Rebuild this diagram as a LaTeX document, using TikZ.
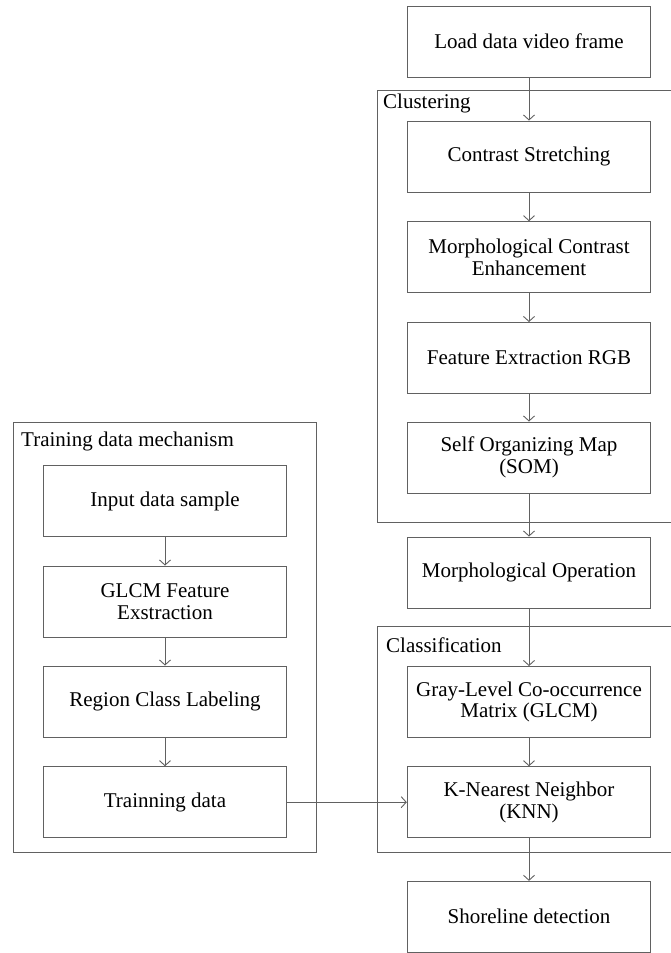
\documentclass[tikz,border=0pt]{standalone}
\usepackage{fontspec}
\setmainfont{Liberation Serif}
\usetikzlibrary{arrows.meta}
\begin{document}
\begin{tikzpicture}[x=1pt,y=-1pt,
  line/.style={draw=black!62, line width=0.9pt},
  box/.style={line, rectangle, minimum width=243.5pt, minimum height=71pt, align=center, inner sep=2pt, font=\fontsize{21}{21.5}\selectfont, text=black},
  flow/.style={line, -{Straight Barb[length=5pt,width=11pt]}},
  grp/.style={font=\fontsize{21}{22}\selectfont, anchor=base west, inner sep=0pt, text=black}]
\useasboundingbox (0,0) rectangle (671,953);
% group frames
\draw[line] (672,90) -- (377.5,90) -- (377.5,522) -- (672,522);
\draw[line] (672,626) -- (377.5,626) -- (377.5,852.5) -- (672,852.5);
\draw[line] (13.5,422.5) rectangle (316.5,852.5);
\node[grp] (lclu) at (383,108) {Clustering};
\node[grp] (lcla) at (386,652) {Classification};
\node[grp] (ltra) at (21,446) {Training data mechanism};
% right column
\node[box] (load) at (529,41.5) {Load data video frame};
\node[box] (cs) at (529,156.5) {Contrast Stretching};
\node[box] (mce) at (529,257.2) {Morphological Contrast\\Enhancement};
\node[box] (rgb) at (529,358) {Feature Extraction RGB};
\node[box] (som) at (529,457.5) {Self Organizing Map\\(SOM)};
\node[box] (mop) at (529,572.5) {Morphological Operation};
\node[box] (glcm) at (529,702) {Gray-Level Co-occurrence\\Matrix (GLCM)};
\node[box] (knn) at (529,802.2) {K-Nearest Neighbor\\(KNN)};
\node[box] (shore) at (529,916.8) {Shoreline detection};
% left column
\node[box] (inp) at (165,501.3) {Input data sample};
\node[box] (gfe) at (165,601.5) {GLCM Feature\\Exstraction};
\node[box] (rcl) at (165,701.5) {Region Class Labeling};
\node[box] (trn) at (165,802.2) {Trainning data};
% connectors
\draw[flow] (load) -- (cs);
\draw[flow] (cs) -- (mce);
\draw[flow] (mce) -- (rgb);
\draw[flow] (rgb) -- (som);
\draw[flow] (som) -- (mop);
\draw[flow] (mop) -- (glcm);
\draw[flow] (glcm) -- (knn);
\draw[flow] (knn) -- (shore);
\draw[flow] (inp) -- (gfe);
\draw[flow] (gfe) -- (rcl);
\draw[flow] (rcl) -- (trn);
\draw[flow] (trn) -- (knn);
\end{tikzpicture}
\end{document}
